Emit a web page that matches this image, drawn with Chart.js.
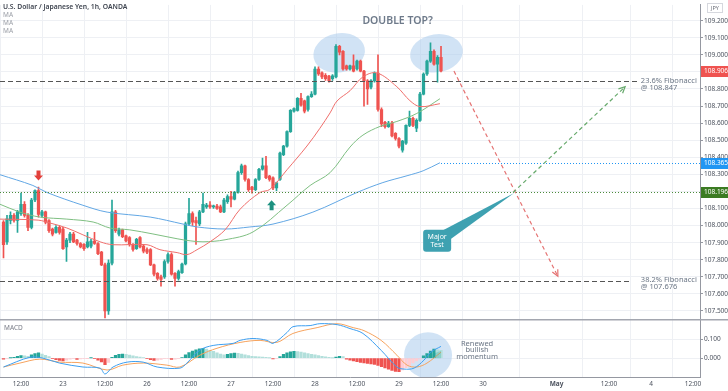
<!DOCTYPE html>
<html>
<head>
<meta charset="utf-8">
<script src="https://cdn.jsdelivr.net/npm/chart.js@4.4.0/dist/chart.umd.min.js"></script>
<style>
html, body { margin: 0; padding: 0; background: #fff; overflow: hidden; }
canvas { display: block; }
</style>
</head>
<body>
<canvas id="chart" width="728" height="391"></canvas>
<script>
"use strict";

// hourly candles, index 0 = 22 Apr 07:00 ... index 125 = 29 Apr 12:00
const opens = [108.021,107.905,108.03,108.06,108.03,108.07,108.125,108.06,107.99,108.15,108.205,108.06,108.08,108.03,107.98,107.96,107.99,107.98,107.875,107.915,107.95,107.915,107.895,107.89,107.875,107.88,107.91,107.895,107.845,107.77,107.50,107.78,108.08,107.95,107.975,107.94,107.93,107.89,107.865,107.93,107.88,107.86,107.86,107.77,107.72,107.70,107.70,107.79,107.83,107.72,107.69,107.725,107.775,108.01,108.07,108.03,108.01,108.08,108.11,108.12,108.11,108.115,108.11,108.08,108.14,108.17,108.155,108.195,108.31,108.35,108.27,108.225,108.21,108.27,108.33,108.35,108.29,108.28,108.22,108.27,108.415,108.465,108.55,108.67,108.675,108.745,108.73,108.68,108.755,108.77,108.917,108.895,108.88,108.875,108.86,108.87,109.05,109.02,108.935,108.917,108.935,108.917,108.963,108.905,108.848,108.81,108.848,108.893,108.68,108.605,108.58,108.60,108.54,108.51,108.442,108.483,108.587,108.628,108.57,108.616,108.77,108.888,108.963,109.02,108.945,108.986];
const highs = [108.03,108.06,108.08,108.07,108.09,108.19,108.14,108.07,108.16,108.21,108.225,108.09,108.085,108.035,107.985,108.0,108.0,107.99,107.925,107.96,107.96,107.92,107.9,107.895,107.96,107.92,107.96,107.9,107.85,107.78,107.80,108.15,108.09,107.985,107.98,107.945,107.935,107.895,107.925,107.935,107.89,107.87,107.865,107.775,107.725,107.71,107.80,107.84,107.84,107.725,107.74,107.78,108.02,108.16,108.08,108.05,108.09,108.19,108.13,108.14,108.12,108.125,108.12,108.16,108.18,108.20,108.20,108.32,108.36,108.355,108.275,108.23,108.275,108.335,108.395,108.405,108.295,108.285,108.255,108.43,108.47,108.555,108.68,108.69,108.75,108.775,108.735,108.76,108.785,108.93,108.93,108.9,108.89,108.88,108.885,109.06,109.055,109.025,108.94,108.94,109.0,108.97,108.97,108.91,108.855,108.855,108.90,109.0,108.69,108.61,108.61,108.61,108.545,108.515,108.50,108.59,108.67,108.635,108.625,108.78,108.895,108.97,109.07,109.03,108.995,109.05];
const lows = [107.81,107.89,108.01,108.02,107.96,108.06,108.05,107.97,107.98,108.14,108.05,108.05,108.01,107.96,107.94,107.955,107.95,107.86,107.79,107.9,107.9,107.885,107.87,107.855,107.87,107.87,107.89,107.83,107.765,107.46,107.48,107.77,107.96,107.94,107.93,107.905,107.88,107.85,107.86,107.87,107.84,107.835,107.765,107.705,107.68,107.645,107.69,107.78,107.71,107.645,107.68,107.72,107.77,108.0,108.0,107.89,108.0,108.075,108.10,108.10,108.10,108.095,108.075,108.075,108.13,108.11,108.15,108.19,108.30,108.26,108.20,108.19,108.205,108.265,108.325,108.275,108.26,108.21,108.205,108.265,108.41,108.46,108.545,108.665,108.67,108.70,108.66,108.67,108.75,108.765,108.88,108.86,108.85,108.84,108.85,108.865,109.0,108.91,108.91,108.91,108.90,108.91,108.90,108.70,108.71,108.80,108.84,108.67,108.58,108.57,108.575,108.52,108.50,108.455,108.43,108.475,108.58,108.58,108.55,108.61,108.765,108.88,108.955,108.94,108.84,108.90];
const closes = [107.888,108.04,108.06,108.03,108.08,108.125,108.06,107.99,108.15,108.205,108.065,108.08,108.02,107.97,107.95,107.99,107.96,107.865,107.915,107.95,107.905,107.895,107.875,107.865,107.905,107.91,107.895,107.835,107.77,107.50,107.78,108.08,107.97,107.975,107.935,107.91,107.89,107.86,107.92,107.875,107.85,107.845,107.77,107.715,107.69,107.685,107.79,107.83,107.715,107.69,107.73,107.775,108.01,108.07,108.02,108.015,108.08,108.125,108.12,108.11,108.115,108.10,108.08,108.15,108.17,108.155,108.195,108.31,108.35,108.27,108.21,108.21,108.27,108.33,108.35,108.28,108.27,108.22,108.25,108.425,108.465,108.55,108.675,108.685,108.745,108.705,108.67,108.755,108.77,108.917,108.888,108.87,108.86,108.848,108.877,109.05,109.015,108.917,108.917,108.935,108.905,108.963,108.905,108.848,108.80,108.848,108.893,108.68,108.595,108.58,108.60,108.525,108.51,108.465,108.495,108.587,108.628,108.587,108.616,108.77,108.888,108.963,109.02,108.945,108.986,108.906];

// moving averages read at sparse points: [bar index, price]
const maFast = [[-1,108.038],[9.9,108.032],[13.3,108.015],[18.1,107.986],[22.7,107.946],[27.6,107.905],[31.3,107.888],[41,107.888],[44.7,107.859],[49.6,107.842],[52.4,107.83],[55.3,107.859],[59,107.905],[63.3,107.975],[67.6,108.096],[73.3,108.194],[76.1,108.212],[81,108.327],[86.7,108.466],[90.4,108.57],[93.3,108.66],[95.3,108.73],[99,108.79],[102.7,108.871],[106.7,108.894],[112.4,108.813],[116.1,108.732],[119,108.697],[124.7,108.714]];
const maMid = [[-1,108.125],[4.7,108.079],[10.4,108.05],[18.1,108.038],[25.6,108.021],[30.4,107.986],[36.1,107.975],[42.7,107.951],[49.6,107.923],[53.3,107.911],[57,107.905],[63.3,107.917],[71.3,107.963],[81,108.119],[87.6,108.235],[93.3,108.31],[99,108.46],[102.7,108.53],[107.6,108.581],[112.4,108.61],[118.1,108.657],[124.7,108.743]];
const maSlow = [[-1,108.298],[8.4,108.235],[12.4,108.194],[22.7,108.119],[29.6,108.079],[41.9,108.05],[51.3,108.009],[55.3,107.992],[63.3,107.98],[70.4,107.992],[77,108.009],[88.4,108.079],[101,108.194],[108.4,108.252],[115.3,108.292],[119.9,108.321],[124.7,108.368]];

// MACD pane
const macdHist = [-0.005,-0.002,0.002,0.005,0.010,0.014,0.012,0.010,0.018,0.025,0.028,0.022,0.015,0.008,-0.003,-0.008,-0.012,-0.014,-0.010,-0.005,-0.003,-0.006,-0.004,-0.002,-0.001,0.002,-0.003,-0.010,-0.020,-0.035,-0.022,0.005,0.015,0.020,0.022,0.020,0.016,0.012,0.009,0.006,0.003,-0.002,-0.008,-0.012,-0.010,-0.006,-0.003,-0.002,-0.006,-0.005,-0.002,0.003,0.018,0.030,0.038,0.045,0.050,0.053,0.048,0.042,0.036,0.028,0.022,0.018,0.020,0.025,0.027,0.026,0.022,0.018,0.014,0.010,0.008,0.007,0.006,0.004,0.001,-0.004,-0.002,0.008,0.020,0.028,0.034,0.037,0.035,0.032,0.028,0.024,0.020,0.018,0.014,0.010,0.007,0.004,0.002,0.006,0.010,0.008,-0.005,-0.010,-0.014,-0.018,-0.022,-0.025,-0.028,-0.030,-0.033,-0.038,-0.045,-0.052,-0.058,-0.065,-0.070,-0.072,-0.062,-0.050,-0.038,-0.025,-0.014,-0.005,0.012,0.025,0.038,0.048,0.045,0.042];
const macdLine = [[0,-0.047],[7.6,0.005],[11.3,0.0],[16,-0.026],[22.7,-0.047],[27.6,-0.053],[29,-0.084],[31.3,-0.047],[35.3,-0.021],[39.9,-0.021],[43.9,-0.047],[50.4,-0.053],[52.4,-0.026],[56,0.042],[59.9,0.068],[65.6,0.079],[67.6,0.095],[71.3,0.105],[75.3,0.095],[77,0.079],[81,0.137],[82.7,0.168],[87.6,0.174],[90.4,0.184],[95.3,0.179],[99,0.158],[102.7,0.132],[107.9,0.042],[112.4,-0.047],[114.4,-0.058],[117.3,-0.053],[120.1,-0.011],[122.1,0.032],[125,0.063]];
const signalLine = [[0,-0.047],[4.7,-0.026],[10.4,-0.005],[16,-0.021],[22.7,-0.026],[29.6,-0.063],[34.1,-0.037],[39.9,-0.026],[46.7,-0.037],[50.4,-0.047],[56.1,0.016],[61,0.053],[67.6,0.084],[73.3,0.095],[78.1,0.084],[82.7,0.132],[89.6,0.163],[95.3,0.184],[99.9,0.163],[103,0.147],[107.9,0.095],[112.4,0.016],[115.3,-0.037],[118.1,-0.047],[121,-0.026],[125,0.032]];

// axes
const timeTickPos = [5, 17, 29, 41, 53, 65, 77, 89, 101, 113, 125, 137, 158, 173, 185, 197];
const timeTickText = ["12:00", "23", "12:00", "26", "12:00", "27", "12:00", "28", "12:00", "29", "12:00", "30", "May", "12:00", "4", "12:00"];
const priceTicks = [107.5, 107.6, 107.7, 107.8, 107.9, 108.0, 108.1, 108.2, 108.3, 108.4, 108.5, 108.6, 108.7, 108.8, 108.9, 109.0, 109.1, 109.2];
const macdTicks = [0, 0.1];

const lastPrice = 108.906;
const fib236 = 108.847;
const fib382 = 107.676;
const greenLevel = 108.196;
const blueLevel = 108.365;

const UP = "#26a69a";
const DOWN = "#ef5350";
const FONT = "'Noto Sans', sans-serif";

const bodies = opens.map((o, i) => ({x: i, y: [o, closes[i]]}));
const wicks = opens.map((o, i) => ({x: i, y: [lows[i], highs[i]]}));
const candleColor = c => closes[c.dataIndex] >= opens[c.dataIndex] ? UP : DOWN;
const pts = arr => arr.map(p => ({x: p[0], y: p[1]}));

function histColor(c){
	const i = c.dataIndex;
	const v = macdHist[i];
	const prev = i > 0 ? macdHist[i - 1] : v;
	if (v >= 0) return v >= prev ? "#26a69a" : "#b2dfdb";
	return v <= prev ? "#ef5350" : "#ffcdd2";
}

function ellipse(ctx, cx, cy, rx, ry, rot){
	ctx.beginPath();
	ctx.ellipse(cx, cy, rx, ry, rot, 0, Math.PI * 2);
	ctx.fill();
}

function hline(ctx, x1, x2, yy, color, dash){
	ctx.save();
	ctx.strokeStyle = color;
	ctx.lineWidth = 1;
	ctx.setLineDash(dash);
	ctx.beginPath();
	ctx.moveTo(x1, Math.round(yy) + 0.5);
	ctx.lineTo(x2, Math.round(yy) + 0.5);
	ctx.stroke();
	ctx.restore();
}

function dashedArrow(ctx, x1, y1, x2, y2, color){
	ctx.save();
	ctx.strokeStyle = color;
	ctx.lineWidth = 1.2;
	ctx.setLineDash([4, 3]);
	ctx.beginPath();
	ctx.moveTo(x1, y1);
	ctx.lineTo(x2, y2);
	ctx.stroke();
	ctx.setLineDash([]);
	const a = Math.atan2(y2 - y1, x2 - x1);
	ctx.beginPath();
	ctx.moveTo(x2 - 7 * Math.cos(a - 0.45), y2 - 7 * Math.sin(a - 0.45));
	ctx.lineTo(x2, y2);
	ctx.lineTo(x2 - 7 * Math.cos(a + 0.45), y2 - 7 * Math.sin(a + 0.45));
	ctx.stroke();
	ctx.restore();
}

function signalArrow(ctx, tx, ty, dir, color){
	// dir = 1 points down, -1 points up
	ctx.save();
	ctx.fillStyle = color;
	ctx.beginPath();
	ctx.moveTo(tx, ty);
	ctx.lineTo(tx + 4.5, ty - 5 * dir);
	ctx.lineTo(tx + 2, ty - 5 * dir);
	ctx.lineTo(tx + 2, ty - 10 * dir);
	ctx.lineTo(tx - 2, ty - 10 * dir);
	ctx.lineTo(tx - 2, ty - 5 * dir);
	ctx.lineTo(tx - 4.5, ty - 5 * dir);
	ctx.closePath();
	ctx.fill();
	ctx.restore();
}

function roundRect(ctx, x, y, w, h, r){
	ctx.beginPath();
	ctx.moveTo(x + r, y);
	ctx.lineTo(x + w - r, y);
	ctx.quadraticCurveTo(x + w, y, x + w, y + r);
	ctx.lineTo(x + w, y + h - r);
	ctx.quadraticCurveTo(x + w, y + h, x + w - r, y + h);
	ctx.lineTo(x + r, y + h);
	ctx.quadraticCurveTo(x, y + h, x, y + h - r);
	ctx.lineTo(x, y + r);
	ctx.quadraticCurveTo(x, y, x + r, y);
	ctx.closePath();
}

function axisBox(ctx, x0, yy, text, bg){
	ctx.fillStyle = bg;
	ctx.fillRect(x0 + 1, Math.round(yy) - 5, 27, 11);
	ctx.fillStyle = "#fff";
	ctx.font = "6.5px " + FONT;
	ctx.textAlign = "left";
	ctx.textBaseline = "middle";
	ctx.fillText(text, x0 + 4, Math.round(yy) + 0.5);
}

const drawings = {
	id: "drawings",
	beforeDatasetsDraw(chart){
		const {ctx, scales: {x, y, y2}} = chart;
		ctx.save();
		ctx.fillStyle = "rgba(172, 204, 237, 0.55)";
		ellipse(ctx, x.getPixelForValue(95.9), y.getPixelForValue(109.012), 26, 19.5, -0.2);
		ellipse(ctx, x.getPixelForValue(123.7), y.getPixelForValue(109.009), 26.5, 19, -0.15);
		ctx.save();
		ctx.beginPath();
		ctx.rect(x.left, y2.top, x.right - x.left, y2.bottom - y2.top);
		ctx.clip();
		ellipse(ctx, x.getPixelForValue(121.3), y2.getPixelForValue(0.016), 24, 23, 0);
		ctx.restore();
		ctx.restore();
	},
	afterDraw(chart){
		const {ctx, scales: {x, y, y2}} = chart;
		const px = v => x.getPixelForValue(v);
		const py = v => y.getPixelForValue(v);
		ctx.save();

		// levels
		hline(ctx, x.left, px(181), py(fib236), "#555", [5, 3]);
		hline(ctx, x.left, px(179), py(fib382), "#555", [5, 3]);
		hline(ctx, x.left, x.right, py(greenLevel), "#4b8b3b", [1, 2]);
		hline(ctx, px(125), x.right, py(blueLevel), "#2196f3", [1, 2]);

		// fib labels
		ctx.fillStyle = "#6b7685";
		ctx.font = "7.5px " + FONT;
		ctx.textAlign = "left";
		ctx.textBaseline = "middle";
		ctx.fillText("23.6% Fibonacci", px(182.1), py(fib236));
		ctx.fillText("@ 108.847", px(182.1), py(fib236) + 7);
		ctx.fillText("38.2% Fibonacci", px(182.1), py(fib382) - 1);
		ctx.fillText("@ 107.676", px(182.1), py(fib382) + 6);

		// projections
		dashedArrow(ctx, px(128.7), py(108.905), px(158.4), py(107.703), "#e57373");
		dashedArrow(ctx, px(145.6), py(108.194), px(177.6), py(108.813), "#66a96b");

		// Major Test callout
		const bx = px(123.9), by = py(107.911);
		ctx.fillStyle = "#3ea1b1";
		ctx.beginPath();
		ctx.moveTo(bx + 3, by - 9);
		ctx.lineTo(bx + 14, by - 2);
		ctx.lineTo(px(145.9), py(108.191));
		ctx.closePath();
		ctx.fill();
		roundRect(ctx, bx - 14, by - 11, 28, 22, 3);
		ctx.fill();
		ctx.fillStyle = "#fff";
		ctx.font = "7px " + FONT;
		ctx.textAlign = "center";
		ctx.fillText("Major", bx, by - 4);
		ctx.fillText("Test", bx, by + 4);

		// signal arrows
		signalArrow(ctx, px(10), py(108.264), 1, "#e2403b");
		signalArrow(ctx, px(76.6), py(108.148), -1, "#1d9180");

		// headline
		ctx.fillStyle = "#6e7a8a";
		ctx.font = "600 10.5px " + FONT;
		ctx.textAlign = "center";
		ctx.fillText("DOUBLE TOP?", px(112.6), py(109.2));

		// MACD notes
		ctx.fillStyle = "rgba(38, 166, 154, 0.28)";
		ctx.beginPath();
		ctx.moveTo(px(119.5), y2.getPixelForValue(0));
		ctx.lineTo(px(125), y2.getPixelForValue(0));
		ctx.lineTo(px(125), y2.getPixelForValue(0.04));
		ctx.closePath();
		ctx.fill();
		ctx.fillStyle = "#6b7685";
		ctx.font = "7.5px " + FONT;
		const tx = px(135.3), ty = y2.getPixelForValue(0.079);
		ctx.fillText("Renewed", tx, ty);
		ctx.fillText("bullish", tx, ty + 6.5);
		ctx.fillText("momentum", tx, ty + 13);

		// pane separator
		ctx.fillStyle = "#a3a6af";
		ctx.fillRect(0, Math.round(y2.top) - 1, chart.width, 1.5);

		// legend texts
		ctx.textAlign = "left";
		ctx.fillStyle = "#3f4550";
		ctx.font = "600 6.8px " + FONT;
		ctx.fillText("U.S. Dollar / Japanese Yen, 1h, OANDA", 3, 7);
		ctx.fillStyle = "#9a9ea6";
		ctx.font = "6.5px " + FONT;
		ctx.fillText("MA", 3, 15);
		ctx.fillText("MA", 3, 23);
		ctx.fillText("MA", 3, 31);
		ctx.fillStyle = "#787b86";
		ctx.fillText("MACD", 4, y2.top + 8);

		// axis labels
		axisBox(ctx, x.right, py(lastPrice), "108.906", "#ef5350");
		axisBox(ctx, x.right, py(blueLevel), "108.365", "#2196f3");
		axisBox(ctx, x.right, py(greenLevel), "108.196", "#3b7b22");
		ctx.fillStyle = "#fff";
		ctx.fillRect(707, 3, 15, 9);
		ctx.strokeStyle = "#d6d8de";
		ctx.lineWidth = 1;
		ctx.strokeRect(707.5, 3.5, 15, 9);
		ctx.fillStyle = "#6a6d78";
		ctx.font = "5.5px " + FONT;
		ctx.textAlign = "center";
		ctx.fillText("JPY", 715, 8.5);
		ctx.restore();
	}
};

const tickFont = {family: FONT, size: 6.5};

new Chart(document.querySelector("#chart").getContext("2d"), {
	type: "bar",
	data: {
		datasets: [
			{type: "line", data: pts(maFast), yAxisID: "y", borderColor: "#ef6f6c", borderWidth: 1, pointRadius: 0, tension: 0.35, order: 0},
			{type: "line", data: pts(maMid), yAxisID: "y", borderColor: "#7fbf82", borderWidth: 1, pointRadius: 0, tension: 0.35, order: 0},
			{type: "line", data: pts(maSlow), yAxisID: "y", borderColor: "#62a7e4", borderWidth: 1, pointRadius: 0, tension: 0.35, order: 0},
			{data: bodies, yAxisID: "y", backgroundColor: candleColor, barThickness: 2.6, minBarLength: 1, grouped: false, order: 1},
			{data: wicks, yAxisID: "y", backgroundColor: candleColor, barThickness: 1, grouped: false, order: 2},
			{type: "line", data: pts(macdLine), yAxisID: "y2", borderColor: "#3d9ff0", borderWidth: 1, pointRadius: 0, tension: 0.35, order: 0},
			{type: "line", data: pts(signalLine), yAxisID: "y2", borderColor: "#f6a35e", borderWidth: 1, pointRadius: 0, tension: 0.35, order: 0},
			{data: macdHist.map((v, i) => ({x: i, y: v})), yAxisID: "y2", backgroundColor: histColor, barThickness: 2.6, grouped: false, order: 1}
		]
	},
	options: {
		responsive: false,
		animation: false,
		devicePixelRatio: 1,
		layout: {padding: 0},
		plugins: {legend: {display: false}, tooltip: {enabled: false}},
		scales: {
			x: {
				type: "linear",
				min: -1,
				max: 199,
				offset: false,
				afterFit(s){ s.height = 14; },
				afterBuildTicks(s){ s.ticks = timeTickPos.map(v => ({value: v})); },
				ticks: {
					autoSkip: false,
					maxRotation: 0,
					padding: 3,
					color: "#4c525e",
					font: c => ({family: FONT, size: 6.5, weight: c.tick && c.tick.value === 158 ? "bold" : "normal"}),
					callback: v => timeTickText[timeTickPos.indexOf(v)]
				},
				grid: {color: "#eef0f4", drawTicks: false},
				border: {color: "#9598a1"}
			},
			y: {
				position: "right",
				stack: "panes",
				stackWeight: 319,
				min: 107.4486,
				max: 109.2925,
				afterFit(s){ s.width = 28; },
				afterBuildTicks(s){ s.ticks = priceTicks.map(v => ({value: v})); },
				ticks: {autoSkip: false, padding: 1, color: "#4c525e", font: tickFont, callback: v => v.toFixed(3)},
				grid: {color: "#eef0f4", tickLength: 3, tickColor: "#9598a1"},
				border: {color: "#9598a1"}
			},
			y2: {
				position: "right",
				stack: "panes",
				stackWeight: 58,
				min: -0.1003,
				max: 0.205,
				afterFit(s){ s.width = 28; },
				afterBuildTicks(s){ s.ticks = macdTicks.map(v => ({value: v})); },
				ticks: {autoSkip: false, padding: 1, color: "#4c525e", font: tickFont, callback: v => v.toFixed(3)},
				grid: {color: "#eef0f4", tickLength: 3, tickColor: "#9598a1"},
				border: {color: "#9598a1"}
			}
		}
	},
	plugins: [drawings]
});
</script>
</body>
</html>
